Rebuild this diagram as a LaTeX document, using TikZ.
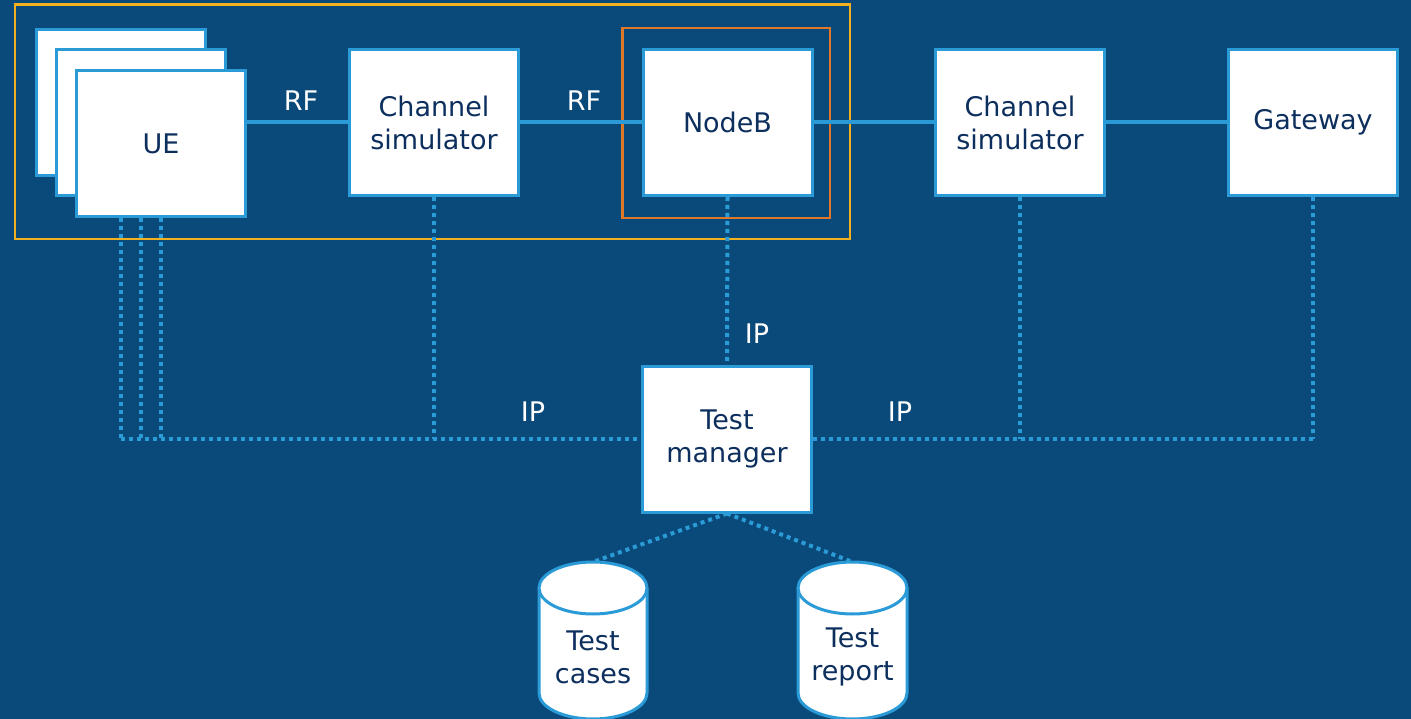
\documentclass[tikz,border=0pt]{standalone}
\usepackage{fontspec}
\setmainfont{DejaVu Sans}
\definecolor{bg}{HTML}{0A4A7A}
\definecolor{lb}{HTML}{2B9BD8}
\definecolor{navy}{HTML}{0D2F5E}
\definecolor{ylw}{HTML}{F2B01E}
\definecolor{org}{HTML}{E0782A}
\begin{document}
\begin{tikzpicture}[x=1pt,y=-1pt,
  box/.style={draw=lb,line width=3pt,fill=white,minimum width=169pt,minimum height=146pt,inner sep=0pt,
    text=navy,font=\fontsize{27}{33}\selectfont,align=center},
  lbl/.style={text=white,font=\fontsize{27}{33}\selectfont,inner sep=0pt},
  rf/.style={draw=lb,line width=4.5pt},
  dots/.style={draw=lb,line width=4pt,dash pattern=on 4pt off 4pt},
  cyl/.style={draw=lb,line width=3pt,fill=white},
  cyltext/.style={text=navy,font=\fontsize{27}{33}\selectfont,align=center,inner sep=0pt}]
\useasboundingbox (0,0) rectangle (1411,719);
\fill[bg] (0,0) rectangle (1411,719);

% frames
\draw[ylw,line width=2.5pt] (15,4.5) rectangle (850,239);
\draw[org,line width=2.5pt] (622.5,28) rectangle (830,218);

% coordinates for dotted lines
\coordinate (u1) at (120.5,218);
\coordinate (u2) at (141,218);
\coordinate (u3) at (161,218);
\coordinate (c1) at (120.5,439);
\coordinate (c2) at (141,439);
\coordinate (c3) at (161,439);
\coordinate (cs1c) at (434,439);
\coordinate (cs2c) at (1020,439);
\coordinate (gwc) at (1313,439);

% UE stack
\node[box] (ueA) at (120.5,103) {};
\node[box] (ueB) at (141,122.5) {};
\node[box] (ue) at (161,143.5) {UE};

\node[box] (cs1) at (434,122.5) {Channel\\simulator};
\node[box] (nb) at (727.5,122.5) {NodeB};
\node[box] (cs2) at (1020,122.5) {Channel\\simulator};
\node[box] (gw) at (1313,122.5) {Gateway};
\node[box] (tm) at (727,439) {Test\\manager};

% RF lines
\draw[rf] (ue.east |- 0,122) -- (cs1.west |- 0,122);
\draw[rf] (cs1.east |- 0,122) -- (nb.west |- 0,122);
\draw[rf] (nb.east |- 0,122) -- (cs2.west |- 0,122);
\draw[rf] (cs2.east |- 0,122) -- (gw.west |- 0,122);
\node[lbl] (rf1) at (301,101) {RF};
\node[lbl] (rf2) at (584,101) {RF};

% dotted IP lines
\draw[dots] (u1) -- (c1);
\draw[dots] (u2) -- (c2);
\draw[dots] (u3) -- (c3);
\draw[dots] (c1) -- (tm.west);
\draw[dots] (cs1.south) -- (cs1c);
\draw[dots] (tm.east) -- (gwc);
\draw[dots] (cs2.south) -- (cs2c);
\draw[dots] (gw.south) -- (gwc);
\draw[dots] (nb.south) -- (tm.north);
\node[lbl] (ip1) at (757,334) {IP};
\node[lbl] (ip2) at (533,412) {IP};
\node[lbl] (ip3) at (900,412) {IP};

% cylinders
\coordinate (tct) at (593,562);
\coordinate (trt) at (852.5,562);
\draw[dots] (tm.south) -- (tct);
\draw[dots] (tm.south) -- (trt);

\path[cyl] (539,588) -- (539,693) arc[start angle=180,end angle=360,x radius=54,y radius=-26] -- (647,588);
\path[cyl] (593,588) ellipse[x radius=54,y radius=26];
\node[cyltext] (tc) at (593,657) {Test\\cases};

\path[cyl] (798,588) -- (798,693) arc[start angle=180,end angle=360,x radius=54.5,y radius=-26] -- (907,588);
\path[cyl] (852.5,588) ellipse[x radius=54.5,y radius=26];
\node[cyltext] (tr) at (852.5,657) {Test\\report};
\end{tikzpicture}
\end{document}
